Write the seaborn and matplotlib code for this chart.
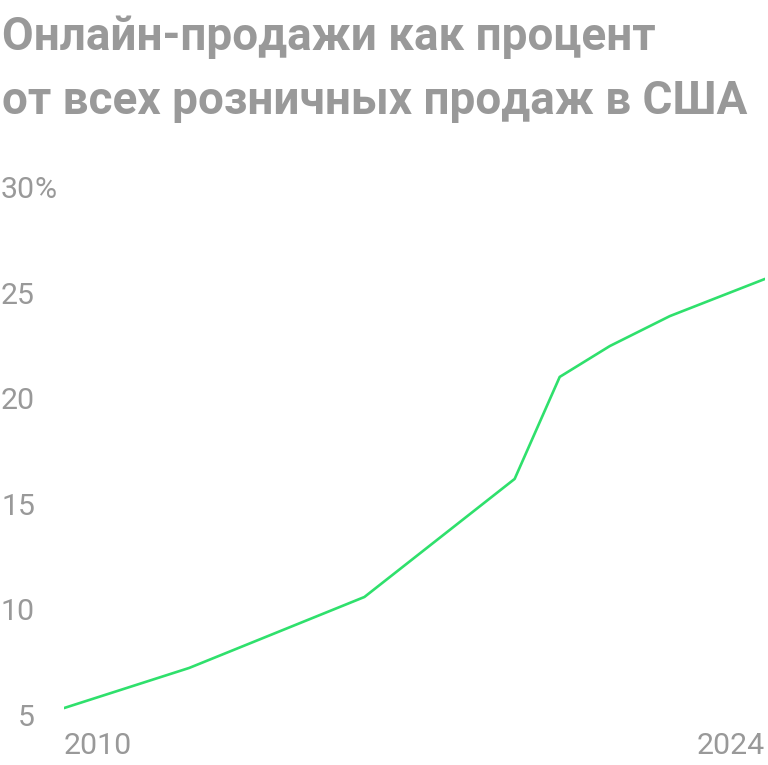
import matplotlib
matplotlib.use("Agg")
import matplotlib.pyplot as plt
import matplotlib.transforms as mtransforms
import seaborn as sns
import pandas as pd

years = [2010, 2012.5, 2016, 2019, 2019.9, 2020.9, 2022.1, 2024]
share = [5.47, 7.37, 10.73, 16.32, 21.15, 22.61, 24.03, 25.79]
y_ticks = [5, 10, 15, 20, 25, 30]
y_labels = ["5", "10", "15", "20", "25", "30%"]
x_ticks = [2010, 2024]
x_labels = ["2010", "2024"]
title_lines = ["Онлайн-продажи как процент", "от всех розничных продаж в США"]

sns.set_theme(style="white")
plt.rcParams["font.family"] = ["Roboto", "DejaVu Sans"]

W, H = 768, 765
fig = plt.figure(figsize=(W / 100, H / 100), dpi=100)
ax = fig.add_axes([64 / W, (H - 718) / H, (765 - 64) / W, (718 - 190) / H])

df = pd.DataFrame({"year": years, "share": share})
sns.lineplot(data=df, x="year", y="share", ax=ax, color="#2fe06c", linewidth=1.9)

ax.set_xlim(2010, 2024)
ax.set_ylim(5, 30)
ax.set_xticks([])
ax.set_yticks([])
ax.set_xlabel("")
ax.set_ylabel("")
for s in ax.spines.values():
    s.set_visible(False)
ax.patch.set_alpha(0)

grey = "#999999"
tick_font = dict(family=["Roboto", "DejaVu Sans"], fontweight="normal", fontsize=21.8, color=grey)

ytrans = mtransforms.blended_transform_factory(fig.transFigure, ax.transData)
for v, lab in zip(y_ticks, y_labels):
    num = lab.rstrip("%")
    ax.text(35 / W, v, num, transform=ytrans, ha="right", va="center", **tick_font)
    if lab.endswith("%"):
        ax.text(35 / W, v, "%", transform=ytrans, ha="left", va="center", **tick_font)

xtrans = mtransforms.blended_transform_factory(ax.transData, fig.transFigure)
for v, lab in zip(x_ticks, x_labels):
    ha = "left" if v == x_ticks[0] else "right"
    ax.text(v, 1 - 754 / H, lab, transform=xtrans, ha=ha, va="baseline", **tick_font)

title_font = dict(family=["Roboto", "DejaVu Sans"], fontweight="bold", fontsize=33, color=grey)
fig.text(2 / W, 1 - 50 / H, title_lines[0], ha="left", va="baseline", **title_font)
fig.text(2 / W, 1 - 114 / H, title_lines[1], ha="left", va="baseline", **title_font)

fig.savefig("out.png", dpi=100, facecolor="white")
